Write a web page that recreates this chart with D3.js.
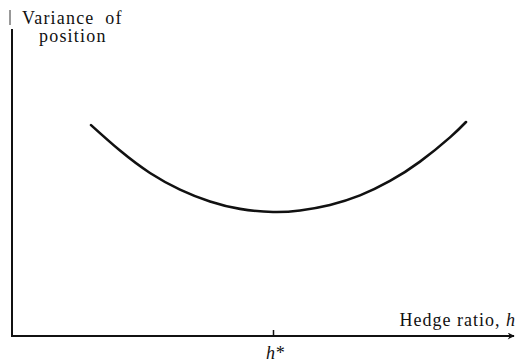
<!DOCTYPE html>
<html lang="en">
  <head>
    <meta charset="UTF-8">
    <script src="https://cdn.jsdelivr.net/npm/d3@7"></script>
    <style>
      body { margin: 0; background: #fff; }
      svg text { font-family: "Liberation Serif", "Times New Roman", Times, "DejaVu Serif", serif; }
    </style>
    <title>Variance of position vs hedge ratio</title>
  </head>
  <body>
    <script>
      // Variance of a hedged position as a function of the hedge ratio

      let w = 517;
      let h = 363;

      // (x: hedge ratio 0-10, y: variance 0-10)
      let hedgeRatio = [1.58, 2.16, 2.76, 3.36, 3.96, 4.56, 5.22, 5.76, 6.36, 6.96, 7.56, 8.16, 8.76, 9.08];
      let variance   = [6.87, 6.04, 5.31, 4.77, 4.38, 4.14, 4.04, 4.09, 4.27, 4.58, 5.05, 5.68, 6.47, 6.97];
      let hStar = 5.22;
      let hStarLabel = 'h*';

      let xScale = d3.scaleLinear()
                     .domain([0, 10])
                     .range([12, 512]);

      let yScale = d3.scaleLinear()
                     .domain([0, 10])
                     .range([336, 29]);

      let svg = d3.select('body')
                  .append('svg')
                  .attr('width', w)
                  .attr('height', h);

      // arrow head for the x axis
      svg.append('defs')
         .append('marker')
         .attr('id', 'arrow')
         .attr('viewBox', '0 0 10 10')
         .attr('refX', 9)
         .attr('refY', 5)
         .attr('markerWidth', 8)
         .attr('markerHeight', 7)
         .attr('markerUnits', 'userSpaceOnUse')
         .attr('orient', 'auto')
         .append('path')
         .attr('d', 'M0,0 L10,5 L0,10 L3,5 Z')
         .attr('fill', '#111');

      // y axis (plus the little scan fragment above it)
      svg.append('line')
         .attr('x1', xScale(0)).attr('x2', xScale(0))
         .attr('y1', yScale(10)).attr('y2', yScale(0) + 1)
         .attr('stroke', '#111')
         .attr('stroke-width', 2);

      svg.append('line')
         .attr('x1', 10).attr('x2', 10)
         .attr('y1', 10).attr('y2', 25)
         .attr('stroke', '#333')
         .attr('stroke-width', 1);

      // x axis with arrow
      svg.append('line')
         .attr('x1', xScale(0) - 1).attr('x2', 514)
         .attr('y1', yScale(0)).attr('y2', yScale(0))
         .attr('stroke', '#111')
         .attr('stroke-width', 2)
         .attr('marker-end', 'url(#arrow)');

      // h* tick
      let xAxis = d3.axisBottom(xScale)
                    .tickValues([hStar])
                    .tickSizeInner(-6)
                    .tickSizeOuter(0)
                    .tickFormat('');

      let gx = svg.append('g')
                  .attr('transform', 'translate(0,' + yScale(0) + ')')
                  .call(xAxis);
      gx.select('.domain').remove();
      gx.selectAll('.tick line')
        .attr('stroke', '#111')
        .attr('stroke-width', 1.5);

      svg.append('text')
         .attr('x', xScale(hStar) + 2)
         .attr('y', 359)
         .attr('text-anchor', 'middle')
         .attr('font-size', '18px')
         .attr('font-style', 'italic')
         .attr('fill', '#111')
         .text(hStarLabel);

      // curve
      let line = d3.line()
                   .x((d, i) => xScale(d))
                   .y((d, i) => yScale(variance[i]))
                   .curve(d3.curveNatural);

      svg.append('path')
         .datum(hedgeRatio)
         .attr('d', line)
         .attr('fill', 'none')
         .attr('stroke', '#111')
         .attr('stroke-width', 2.6)
         .attr('stroke-linecap', 'round');

      // axis labels
      svg.append('text')
         .attr('x', 22)
         .attr('y', 24)
         .attr('font-size', '18px')
         .attr('letter-spacing', '1.2px')
         .attr('word-spacing', '5px')
         .attr('fill', '#111')
         .text('Variance of');

      svg.append('text')
         .attr('x', 39)
         .attr('y', 42)
         .attr('font-size', '18px')
         .attr('letter-spacing', '1.2px')
         .attr('fill', '#111')
         .text('position');

      let xLabel = svg.append('text')
         .attr('x', 516)
         .attr('y', 326)
         .attr('text-anchor', 'end')
         .attr('font-size', '18px')
         .attr('letter-spacing', '1px')
         .attr('fill', '#111');
      xLabel.append('tspan').text('Hedge ratio, ');
      xLabel.append('tspan').attr('font-style', 'italic').text('h');
    </script>
  </body>
</html>
